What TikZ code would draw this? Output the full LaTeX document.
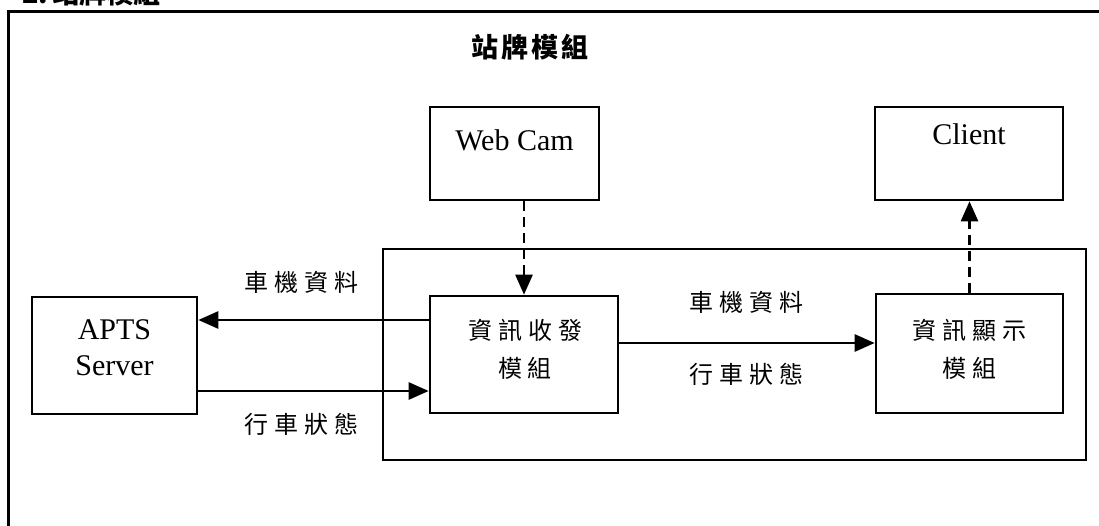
\documentclass[tikz,border=0pt]{standalone}
\usepackage{fontspec}
\setmainfont{Liberation Serif}
\newfontfamily\cjk{Noto Sans CJK TC}
\usetikzlibrary{arrows.meta}
\newcommand\gp{\kern6pt}
\begin{document}
\begin{tikzpicture}[x=1pt,y=-1pt,
  box/.style={draw,line width=2.6pt,inner sep=0pt},
  lat/.style={font=\fontsize{30}{36}\selectfont,align=center,inner sep=0pt},
  zh/.style={font=\cjk\fontsize{24}{38}\selectfont,align=center,inner sep=0pt},
  ttl/.style={font=\cjk\bfseries\fontsize{27}{30}\selectfont,inner sep=0pt},
  conn/.style={line width=2.6pt,-{Triangle[length=20pt,width=17pt]}},
  dconn/.style={conn,dash pattern=on 10pt off 6pt}]
\useasboundingbox (0,0) rectangle (1099,526);
\clip (0,0) rectangle (1099,526);
\fill[white] (0,0) rectangle (1099,526);
% cut-off heading
\node[ttl,anchor=base west] (head) at (22,4) {2.\kern4pt 站牌模組};
% outer frame
\coordinate (fbl) at (8,540);
\coordinate (ftl) at (8,12);
\coordinate (ftr) at (1110,12);
\draw[line width=3pt] (fbl) -- (ftl) -- (ftr);
\node[ttl] (title) at (530,47) {站\kern3pt 牌\kern3pt 模\kern3pt 組};
% boxes
\node[box,minimum width=169pt,minimum height=93pt] (webcam) at (514.5,153.5) {};
\node[lat] (webcamtxt) at (514.5,140) {Web Cam};
\node[box,minimum width=188pt,minimum height=93pt] (client) at (969,153.5) {};
\node[lat] (clienttxt) at (969,134) {Client};
\node[box,minimum width=703pt,minimum height=211pt] (inner) at (734.5,354.5) {};
\node[box,minimum width=165pt,minimum height=117pt] (apts) at (114.5,355.5) {};
\node[lat] (aptstxt) at (114.5,348) {APTS\\Server};
\node[box,minimum width=188pt,minimum height=117pt] (tx) at (524,354.5) {};
\node[zh] (txtxt) at (525,349) {資\gp 訊\gp 收\gp 發\\模\gp 組};
\node[box,minimum width=187pt,minimum height=119pt] (disp) at (969.5,353.5) {};
\node[zh] (disptxt) at (969.5,349) {資\gp 訊\gp 顯\gp 示\\模\gp 組};
% labels
\node[zh] (l1) at (301,282) {車\gp 機\gp 資\gp 料};
\node[zh] (l2) at (301,424) {行\gp 車\gp 狀\gp 態};
\node[zh] (l3) at (746,302) {車\gp 機\gp 資\gp 料};
\node[zh] (l4) at (746,374) {行\gp 車\gp 狀\gp 態};
% connectors
\draw[conn] ([yshift=34.5pt]tx.west) -- ([yshift=35.5pt]apts.east);
\draw[conn] ([yshift=-35.5pt]apts.east) -- ([yshift=-36.5pt]tx.west);
\draw[conn] ([yshift=11.5pt]tx.east) -- ([yshift=10.5pt]disp.west);
\draw[dconn] ([xshift=9.5pt]webcam.south) -- (tx.north);
\draw[dconn] (disp.north) -- ([xshift=0.5pt]client.south);
\end{tikzpicture}
\end{document}
